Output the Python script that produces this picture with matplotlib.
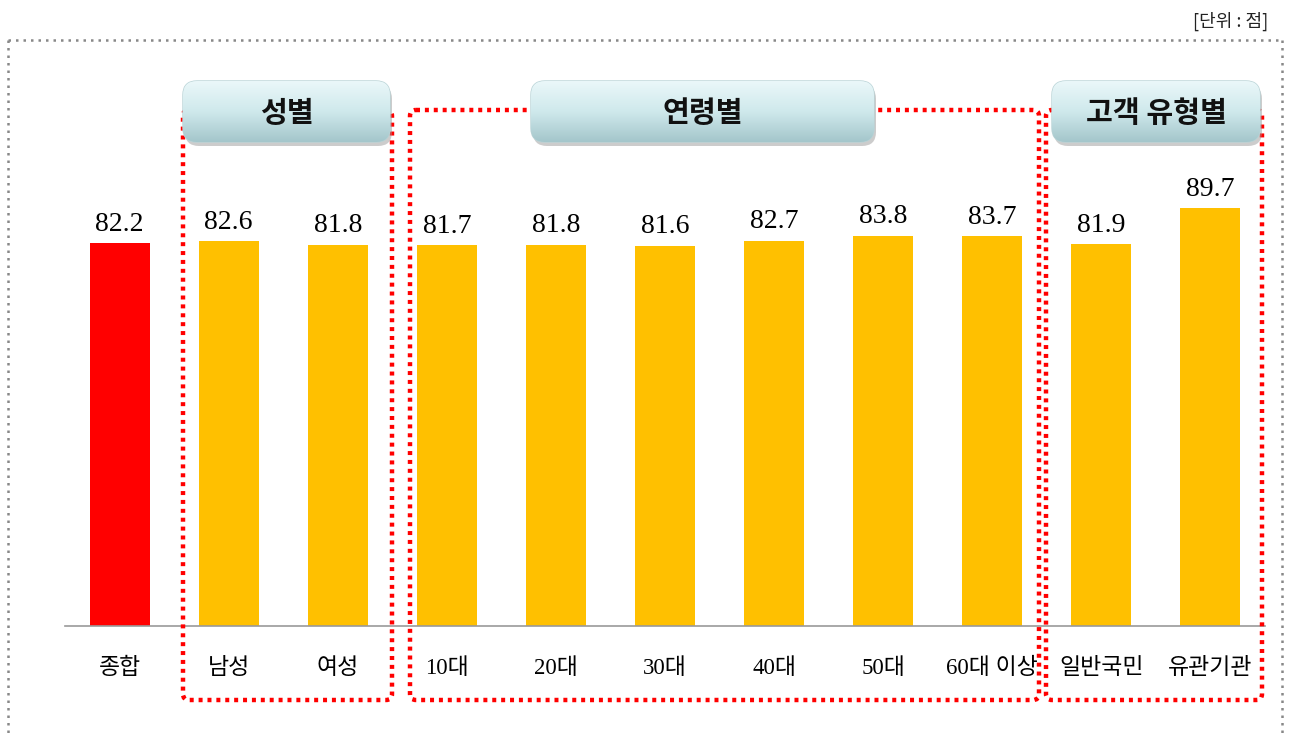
import matplotlib
matplotlib.use('Agg')
import matplotlib.pyplot as plt
import numpy as np
from matplotlib.patches import FancyBboxPatch
from matplotlib.colors import LinearSegmentedColormap

plt.rcParams['font.family'] = ['Noto Sans CJK KR', 'DejaVu Sans']

categories = ['종합', '남성', '여성', '10대', '20대', '30대', '40대', '50대', '60대 이상', '일반국민', '유관기관']
values = [82.2, 82.6, 81.8, 81.7, 81.8, 81.6, 82.7, 83.8, 83.7, 81.9, 89.7]
bar_colors = ['#FF0000'] + ['#FFC000'] * 10
group_names = ['성별', '연령별', '고객 유형별']

W, H = 1289, 737
fig = plt.figure(figsize=(W / 100, H / 100), dpi=100)

# main bar axes (pixel layout: baseline at y=626, x from 65 to 1265)
ax = fig.add_axes([65 / W, (H - 626) / H, 1200 / W, 586 / H])
x = np.arange(len(categories))
ax.bar(x, values, width=0.55, color=bar_colors, zorder=2)
ax.set_xlim(-0.5, len(categories) - 0.5)
ax.set_ylim(0, 125.8)
for s in ['top', 'left', 'right']:
    ax.spines[s].set_visible(False)
ax.spines['bottom'].set_color('#999999')
ax.spines['bottom'].set_linewidth(1.2)
ax.set_yticks([])
ax.set_xticks(x)
ax.set_xticklabels(categories, fontsize=16.5, family=['Liberation Serif', 'Noto Sans CJK KR'])
ax.tick_params(axis='x', length=0, pad=23)
ax.patch.set_visible(False)

for xi, v in zip(x, values):
    ax.annotate(f'{v:.1f}', (xi, v), xytext=(0, 9), textcoords='offset points',
                ha='center', va='baseline', fontsize=20, family='Liberation Serif')

# overlay in pixel coordinates for frame, group boxes and headers
ov = fig.add_axes([0, 0, 1, 1], zorder=5)
ov.set_xlim(0, W)
ov.set_ylim(H, 0)
ov.axis('off')
ov.patch.set_visible(False)

# outer gray dotted frame
ov.plot([8, 1282], [40, 40], ls=(0, (1, 2)), color='#888888', lw=1.8)
ov.plot([8, 8], [40, 737], ls=(0, (1, 2)), color='#888888', lw=1.8)
ov.plot([1282, 1282], [40, 737], ls=(0, (1, 2)), color='#888888', lw=1.8)

ov.text(1268, 21, '[단위 : 점]', ha='right', va='center', fontsize=13, color='#222222')

# red dotted group boxes
group_boxes = [(183, 392), (410, 1039), (1046, 1262)]
for x0, x1 in group_boxes:
    p = FancyBboxPatch((x0, 110), x1 - x0, 590, boxstyle='round,pad=0,rounding_size=6',
                       fill=False, edgecolor='#FF0000', lw=3.2, ls=(0, (0.9, 1.1)))
    ov.add_patch(p)

# header boxes with gradient
cmap = LinearSegmentedColormap.from_list('hdr', ['#eaf7f9', '#cfe9ec', '#a4c6cb'])
headers = [(183, 390), (531, 874), (1052, 1260)]
for (x0, x1), name in zip(headers, group_names):
    y0, y1 = 81, 142
    sh = FancyBboxPatch((x0 + 2, y0 + 4), x1 - x0, y1 - y0,
                        boxstyle='round,pad=0,rounding_size=14',
                        facecolor='#9a9a9a', edgecolor='none', alpha=0.5)
    ov.add_patch(sh)
    p = FancyBboxPatch((x0, y0), x1 - x0, y1 - y0, boxstyle='round,pad=0,rounding_size=14',
                       facecolor='#d2ecef', edgecolor='#b9d3d6', lw=1)
    ov.add_patch(p)
    grad = np.linspace(0, 1, 100).reshape(-1, 1)
    im = ov.imshow(grad, cmap=cmap, extent=(x0, x1, y1, y0), aspect='auto', zorder=p.get_zorder() + 0.1)
    im.set_clip_path(p)
    ov.text((x0 + x1) / 2, (y0 + y1) / 2 + 1, name, ha='center', va='center',
            fontsize=21, fontweight='bold', color='#111111', zorder=p.get_zorder() + 1)

ov.set_xlim(0, W)
ov.set_ylim(H, 0)

fig.savefig('out.png', dpi=100)
